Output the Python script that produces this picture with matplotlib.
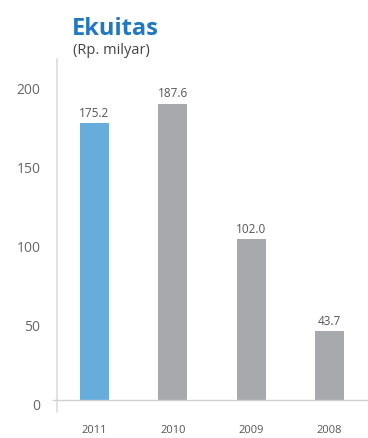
import matplotlib.pyplot as plt
import matplotlib.transforms as mtransforms

years = ["2011", "2010", "2009", "2008"]
equity = [175.2, 187.6, 102.0, 43.7]
bar_colors = ["#67addc", "#a7a9ac", "#a7a9ac", "#a7a9ac"]
y_ticks = [0, 50, 100, 150, 200]

W, H = 368, 439
fig = plt.figure(figsize=(W / 100, H / 100), dpi=100)
plt.rcParams["font.family"] = ["Open Sans", "DejaVu Sans"]

# axes box in pixels: left spine at x=57, top 60, bottom 413
ax = fig.add_axes([57 / W, (H - 413) / H, (W - 57) / W, (413 - 60) / H])

x = list(range(len(years)))
ax.bar(x, equity, width=0.37, color=bar_colors, zorder=2)

for xi, v in zip(x, equity):
    ax.annotate(f"{v:.1f}", (xi, v), xytext=(0, 3), textcoords="offset points",
                ha="center", va="bottom", fontsize=8.5, color="#555555")

ax.set_xlim(-0.478, 3.49)
ax.set_ylim(-7.6, 215.8)

ax.set_yticks(y_ticks)
ax.set_yticklabels([str(t) for t in y_ticks])
ax.set_xticks(x)
ax.set_xticklabels(years)
ax.tick_params(axis="y", length=0, pad=12, labelsize=10, labelcolor="#666666")
ax.tick_params(axis="x", length=0, pad=9, labelsize=8, labelcolor="#555555")

# nudge the y labels down a little, like the original
offset = mtransforms.ScaledTranslation(0, -4 / 100, fig.dpi_scale_trans)
for lbl in ax.get_yticklabels():
    lbl.set_transform(lbl.get_transform() + offset)

for side in ["top", "right", "bottom"]:
    ax.spines[side].set_visible(False)
ax.spines["left"].set_color("#dddddd")
ax.spines["left"].set_linewidth(1.2)

ax.axhline(0, xmin=-4 / 311, xmax=1, color="#d0d0d0", linewidth=1, clip_on=False, zorder=3)

fig.text(72 / W, 1 - 29 / H, "Ekuitas", fontsize=17, fontweight="bold",
         color="#1f78c1", ha="left", va="center")
fig.text(73 / W, 1 - 50 / H, "(Rp. milyar)", fontsize=10.5, color="#444444",
         ha="left", va="center")

fig.savefig("out.png", dpi=100)
